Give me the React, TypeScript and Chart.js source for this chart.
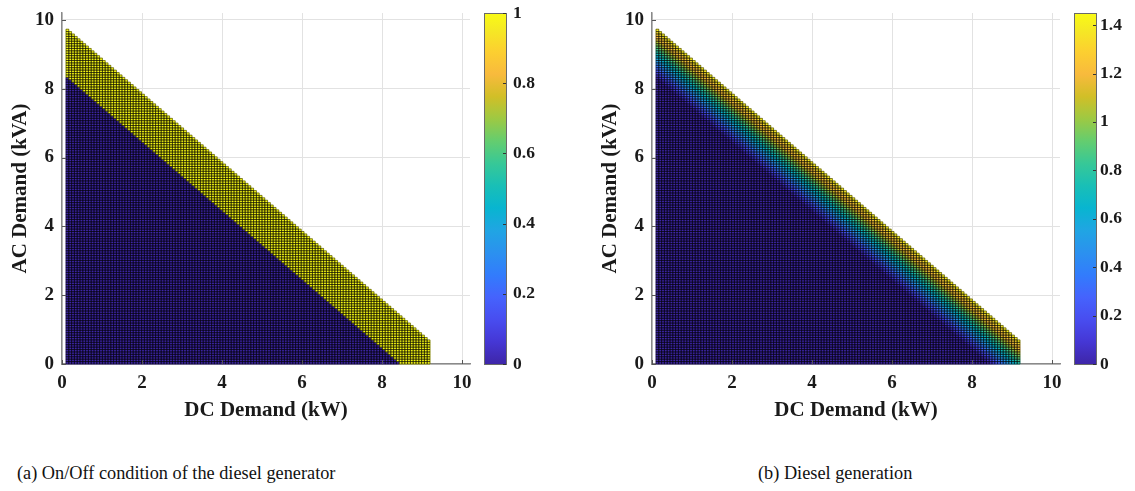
import React, { useEffect, useRef } from "react";
import { Chart, registerables } from "chart.js";

Chart.register(...registerables);

// ---- axes / labels ----
const axisTicks = [0, 2, 4, 6, 8, 10];
const axisLimits = [0, 10.2];
const onOffTicks = [0, 0.2, 0.4, 0.6, 0.8, 1];
const onOffLimits = [0, 1];
const generationTicks = [0, 0.2, 0.4, 0.6, 0.8, 1, 1.2, 1.4];
const generationLimits = [0, 1.45];
const captions = ["(a) On/Off condition of the diesel generator", "(b) Diesel generation"];
const xTitle = "DC Demand (kW)";
const yTitle = "AC Demand (kVA)";

// ---- demand grid ----
const dcDemandStart = 0.1; // kW
const dcSteps = 130;
const acDemandStart = 0; // kVA
const acSteps = 140;
const demandStep = 0.07;
const maxTotalDemand = 9.76; // largest feasible DC+AC (cell corner)
const dieselStartDemand = 8.36; // total demand above which the diesel runs

// ---- parula colormap (stops) ----
const parulaPos = [0, 4, 8, 12, 16, 20, 24, 28, 32, 36, 40, 44, 48, 52, 56, 60, 63];
const parulaRGB = [
  [0.2422, 0.1504, 0.6603], [0.2706, 0.2147, 0.8364], [0.2813, 0.3006, 0.9414],
  [0.2699, 0.3892, 0.9906], [0.1963, 0.4847, 0.9892], [0.1687, 0.5703, 0.9359],
  [0.1248, 0.6459, 0.8883], [0.0297, 0.7082, 0.8163], [0.0964, 0.75, 0.712],
  [0.2161, 0.7843, 0.5923], [0.3909, 0.8029, 0.4354], [0.6174, 0.7876, 0.2612],
  [0.8203, 0.7498, 0.1535], [0.9728, 0.7298, 0.2394], [0.9892, 0.8136, 0.1885],
  [0.9597, 0.9135, 0.1423], [0.9769, 0.9839, 0.0805],
];

function parula(t: number): string {
  const tt = Math.max(0, Math.min(1, t)) * 63;
  let k = 0;
  while (k < parulaPos.length - 2 && tt > parulaPos[k + 1]) k++;
  const a = parulaPos[k], b = parulaPos[k + 1];
  const f = (tt - a) / (b - a);
  const c = parulaRGB[k].map((v, i) => Math.round(255 * (v + (parulaRGB[k + 1][i] - v) * f)));
  return `rgb(${c[0]},${c[1]},${c[2]})`;
}

type Cell = { x: number; y: number; v: number };

function buildCells(kind: "onoff" | "gen"): Cell[] {
  const out: Cell[] = [];
  for (let i = 0; i < dcSteps; i++) {
    for (let j = 0; j < acSteps; j++) {
      const x0 = dcDemandStart + i * demandStep;
      const y0 = acDemandStart + j * demandStep;
      const total = Math.round((x0 + y0) * 1000) / 1000;
      if (total > maxTotalDemand + 1e-9) continue;
      const gen = Math.max(0, Math.round((total - dieselStartDemand) * 1000) / 1000);
      out.push({
        x: x0 + demandStep / 2,
        y: y0 + demandStep / 2,
        v: kind === "onoff" ? (gen > 0 ? 1 : 0) : gen,
      });
    }
  }
  return out;
}

const SERIF = "'Liberation Serif', 'Times New Roman', serif";

function makePlugin(limits: number[]) {
  return {
    id: "heatmapColorbar",
    beforeDatasetsDraw(chart: any) {
      const ctx = chart.ctx;
      const xs = chart.scales.x, ys = chart.scales.y;
      const cells = chart.data.datasets[0].data as Cell[];
      const h = demandStep / 2;
      ctx.save();
      const rects: number[][] = [];
      for (const c of cells) {
        const l = xs.getPixelForValue(c.x - h), r = xs.getPixelForValue(c.x + h);
        const t = ys.getPixelForValue(c.y + h), b = ys.getPixelForValue(c.y - h);
        ctx.fillStyle = parula((c.v - limits[0]) / (limits[1] - limits[0]));
        ctx.fillRect(l - 0.3, t - 0.3, r - l + 0.6, b - t + 0.6);
        rects.push([l, t, r - l, b - t]);
      }
      ctx.beginPath();
      for (const q of rects) ctx.rect(q[0], q[1], q[2], q[3]);
      ctx.strokeStyle = "rgba(0,0,0,0.8)";
      ctx.lineWidth = 0.6;
      ctx.stroke();
      ctx.restore();
    },
    afterDraw(chart: any) {
      const ctx = chart.ctx;
      const ca = chart.chartArea;
      const xs = chart.scales.x, ys = chart.scales.y, cb = chart.scales.cb;
      ctx.save();
      // inward ticks
      ctx.strokeStyle = "#555";
      ctx.lineWidth = 1;
      ctx.beginPath();
      for (const v of axisTicks) {
        const px = Math.round(xs.getPixelForValue(v)) + 0.5;
        ctx.moveTo(px, ca.bottom);
        ctx.lineTo(px, ca.bottom - 4);
        const py = Math.round(ys.getPixelForValue(v)) + 0.5;
        ctx.moveTo(ca.left, py);
        ctx.lineTo(ca.left + 4, py);
      }
      ctx.stroke();
      // colorbar
      const x0 = ca.right + 14, w = 22;
      const grad = ctx.createLinearGradient(0, ca.bottom, 0, ca.top);
      parulaPos.forEach((p, k) => {
        const c = parulaRGB[k].map((v) => Math.round(v * 255));
        grad.addColorStop(p / 63, `rgb(${c[0]},${c[1]},${c[2]})`);
      });
      ctx.fillStyle = grad;
      ctx.fillRect(x0, ca.top, w, ca.bottom - ca.top);
      ctx.strokeStyle = "#6a6a6a";
      ctx.lineWidth = 1;
      ctx.strokeRect(x0 + 0.5, ca.top + 0.5, w, ca.bottom - ca.top);
      ctx.strokeStyle = "#333";
      ctx.beginPath();
      for (const t of cb.ticks) {
        const py = Math.round(cb.getPixelForValue(t.value)) + 0.5;
        ctx.moveTo(x0 + w, py);
        ctx.lineTo(x0 + w - 3, py);
      }
      ctx.stroke();
      ctx.restore();
    },
  };
}

type PanelProps = {
  left: number;
  kind: "onoff" | "gen";
  cbTicks: number[];
  cbLimits: number[];
  cbPad: number;
};

function Panel({ left, kind, cbTicks, cbLimits, cbPad }: PanelProps) {
  const ref = useRef<HTMLCanvasElement | null>(null);
  useEffect(() => {
    if (!ref.current) return;
    const tickFont = { family: SERIF, size: 19, weight: "bold" as const };
    const cbFont = { family: SERIF, size: 17.5, weight: "bold" as const };
    const titleFont = { family: SERIF, size: 21, weight: "bold" as const };
    const chart = new Chart(ref.current, {
      type: "scatter",
      data: {
        datasets: [
          {
            data: buildCells(kind) as any,
            pointRadius: 0,
            pointHoverRadius: 0,
            showLine: false,
          },
        ],
      },
      options: {
        animation: false,
        responsive: false,
        maintainAspectRatio: false,
        events: [],
        layout: { padding: { top: 13, left: 0, right: 0, bottom: 0 } },
        plugins: { legend: { display: false }, tooltip: { enabled: false } },
        scales: {
          x: {
            type: "linear",
            position: "bottom",
            min: axisLimits[0],
            max: axisLimits[1],
            afterBuildTicks: (s: any) => {
              s.ticks = axisTicks.map((v) => ({ value: v }));
            },
            afterFit: (s: any) => {
              s.height = 76;
            },
            ticks: { font: tickFont, color: "#1a1a1a", padding: 0, maxRotation: 0, callback: (v: any) => String(v) },
            grid: { color: "#e2e2e2", lineWidth: 1, drawTicks: true, tickLength: 8, tickColor: "rgba(0,0,0,0)" },
            border: { display: true, color: "#8a8a8a", width: 1.5 },
            title: { display: true, text: xTitle, font: titleFont, color: "#1a1a1a", padding: { top: 0, bottom: 17 } },
          },
          y: {
            type: "linear",
            position: "left",
            min: axisLimits[0],
            max: axisLimits[1],
            afterBuildTicks: (s: any) => {
              s.ticks = axisTicks.map((v) => ({ value: v }));
            },
            afterFit: (s: any) => {
              s.width = 62;
            },
            ticks: { font: tickFont, color: "#1a1a1a", padding: 0, callback: (v: any) => String(v) },
            grid: { color: "#e2e2e2", lineWidth: 1, drawTicks: true, tickLength: 8, tickColor: "rgba(0,0,0,0)" },
            border: { display: true, color: "#8a8a8a", width: 1.5 },
            title: { display: true, text: yTitle, font: titleFont, color: "#1a1a1a", padding: { top: 8, bottom: 0 } },
          },
          cb: {
            type: "linear",
            position: "right",
            min: cbLimits[0],
            max: cbLimits[1],
            afterBuildTicks: (s: any) => {
              s.ticks = cbTicks.map((v) => ({ value: v }));
            },
            afterFit: (s: any) => {
              s.width = 75;
            },
            ticks: { font: cbFont, color: "#1a1a1a", padding: 0, callback: (v: any) => String(v) },
            grid: { display: false, drawTicks: true, tickLength: cbPad },
            border: { display: false },
          },
        },
      } as any,
      plugins: [makePlugin(cbLimits)],
    });
    return () => chart.destroy();
  }, [kind, cbPad]);
  return (
    <canvas
      ref={ref}
      width={545}
      height={440}
      style={{ position: "absolute", left, top: 0, width: 545, height: 440 }}
    />
  );
}

export default function App() {
  const capStyle: React.CSSProperties = {
    position: "absolute",
    top: 461,
    fontFamily: SERIF,
    fontSize: 18.3,
    lineHeight: "24px",
    color: "#111",
    whiteSpace: "nowrap",
  };
  return (
    <div style={{ position: "absolute", left: 0, top: 0, width: 1135, height: 491, background: "#fff", overflow: "hidden" }}>
      <Panel left={0} kind="onoff" cbTicks={onOffTicks} cbLimits={onOffLimits} cbPad={43} />
      <Panel left={590} kind="gen" cbTicks={generationTicks} cbLimits={generationLimits} cbPad={40} />
      <div style={{ ...capStyle, left: 17 }}>{captions[0]}</div>
      <div style={{ ...capStyle, left: 758 }}>{captions[1]}</div>
    </div>
  );
}
